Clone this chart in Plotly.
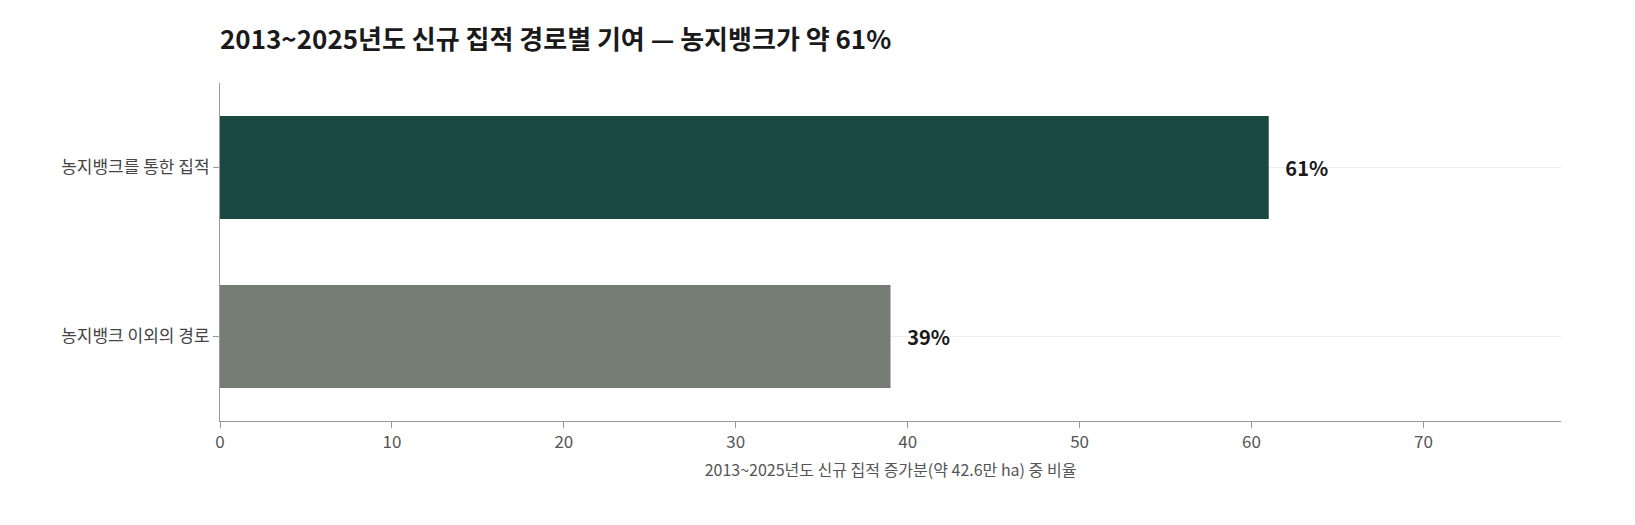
import plotly.graph_objects as go

categories = ["농지뱅크 이외의 경로", "농지뱅크를 통한 집적"]
values = [39, 61]
labels = ["39%", "61%"]
colors = ["#757c74", "#1b4842"]

fig = go.Figure(go.Bar(
    y=categories, x=values, orientation="h", width=0.61,
    marker=dict(color=colors, line=dict(width=0)),
    text=["<b>   " + t + "</b>" for t in labels], textposition="outside", cliponaxis=False,
    textfont=dict(size=20, color="#1a1a1a", family="Noto Sans CJK KR"),
))
fig.update_layout(
    width=1635, height=525, paper_bgcolor="white", plot_bgcolor="white",
    margin=dict(l=212, r=82, t=75, b=112),
    font=dict(family="Noto Sans CJK KR", color="#555"),
    title=dict(text="<b>2013~2025년도 신규 집적 경로별 기여 — 농지뱅크가 약 61%</b>",
               x=212/1635, xanchor="left", y=0.94, yanchor="middle",
               font=dict(size=26, color="#1a1a1a")),
    showlegend=False, uniformtext=dict(minsize=20, mode="show"),
)
fig.update_xaxes(range=[0, 78], dtick=10, showline=True, linecolor="#999",
                 ticks="outside", tickcolor="#999", ticklen=6, showgrid=False,
                 zeroline=False, tickfont=dict(size=17, color="#555"),
                 title=dict(text="2013~2025년도 신규 집적 증가분(약 42.6만 ha) 중 비율",
                            font=dict(size=16, color="#555"), standoff=12))
fig.update_yaxes(showline=True, linecolor="#999", ticks="outside", tickcolor="#999",
                 ticklen=6, showgrid=True, gridcolor="#eeeeee",
                 tickfont=dict(size=17, color="#444"))
fig.write_html("out.html")
